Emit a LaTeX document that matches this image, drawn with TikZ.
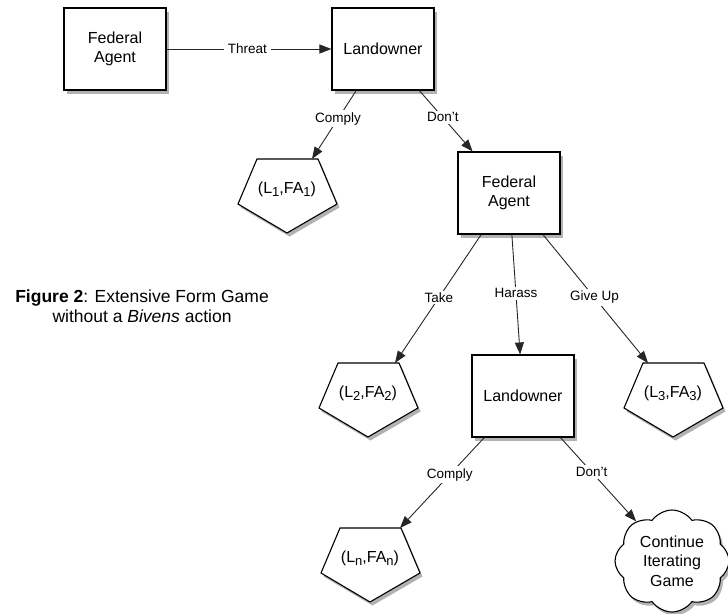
\documentclass[tikz,border=0pt]{standalone}
\usepackage{fontspec}
\setmainfont{Liberation Sans}
\usetikzlibrary{arrows.meta,shapes.symbols,shadows,calc}
\newcommand{\sbx}[1]{\raisebox{-0.4ex}{\fontsize{13}{13}\selectfont #1}}
\newcommand{\pentpath}[1]{($(#1)+(-30,-30)$) -- ($(#1)+(31,-30)$) -- ($(#1)+(50,15)$) -- ($(#1)+(0,44)$) -- ($(#1)+(-49,15)$) -- cycle}
\begin{document}
\begin{tikzpicture}[x=1pt,y=-1pt,
  shad/.style={drop shadow={shadow xshift=2.5pt,shadow yshift=-3.5pt,opacity=0.3,fill=black}},
  box/.style={draw=black,line width=1.1pt,fill=white,minimum width=102pt,minimum height=82pt,inner sep=0pt,align=center,font=\fontsize{16}{19.5}\selectfont,shad},
  lab/.style={fill=white,inner xsep=4pt,inner ysep=2pt,font=\fontsize{13.5}{15}\selectfont},
  arr/.style={draw=black!85,line width=0.9pt,-{Triangle[length=12pt,width=9pt]}},
  ptext/.style={inner sep=0pt,font=\fontsize{16}{19}\selectfont},
  pent/.style={draw=black,line width=1.1pt,fill=white,line join=miter,shad},
]
\useasboundingbox (0,0) rectangle (728,613);

% boxes
\node[box] (fa1) at (115,49) {Federal\\Agent};
\node[box] (lo1) at (383,49) {Landowner};
\node[box] (fa2) at (509,193) {Federal\\Agent};
\node[box] (lo2) at (523,396) {Landowner};

% pentagons
\coordinate (p1c) at (287,189);
\coordinate (p2c) at (368,393);
\coordinate (p3c) at (673,393);
\coordinate (pnc) at (370,558);
\path[pent] \pentpath{p1c};
\path[pent] \pentpath{p2c};
\path[pent] \pentpath{p3c};
\path[pent] \pentpath{pnc};
\node[ptext] (p1) at (p1c) {(L\sbx{1},FA\sbx{1})};
\node[ptext] (p2) at (p2c) {(L\sbx{2},FA\sbx{2})};
\node[ptext] (p3) at (p3c) {(L\sbx{3},FA\sbx{3})};
\node[ptext] (pn) at (pnc) {(L\sbx{n},FA\sbx{n})};
\coordinate (e1) at ($(p1c)+(25,-30)$);
\coordinate (e2) at ($(p2c)+(27,-30)$);
\coordinate (e3) at ($(p3c)+(-25,-30)$);
\coordinate (en) at ($(pnc)+(30,-30)$);

% cloud
\node[cloud,cloud puffs=8,cloud puff arc=110,aspect=1.1,draw=black,line width=1.1pt,fill=white,shad,
      minimum width=114pt,minimum height=102pt,inner sep=0pt,align=center,font=\fontsize{16}{19.5}\selectfont]
      (cl) at (672,561) {Continue\\Iterating\\Game};

% caption
\node[align=center,font=\fontsize{17.5}{20}\selectfont] (cap) at (142,306)
  {\textbf{Figure 2}: Extensive Form Game\\without a \textit{Bivens} action};

% edges
\draw[arr] (fa1) -- node[lab,pos=.49]{Threat} (lo1);
\draw[arr] (lo1) -- node[lab,pos=.41]{Comply} (e1);
\draw[arr] (lo1) -- node[lab,pos=.44]{Don't} (fa2);
\draw[arr] (fa2) -- node[lab,pos=.49]{Take} (e2);
\draw[arr] (fa2) -- node[lab,pos=.49]{Harass} (lo2);
\draw[arr] (fa2) -- node[lab,pos=.49]{Give Up} (e3);
\draw[arr] (lo2) -- node[lab,pos=.41]{Comply} (en);
\draw[arr] (lo2) -- node[lab,pos=.41]{Don't} (cl);
\end{tikzpicture}
\end{document}
